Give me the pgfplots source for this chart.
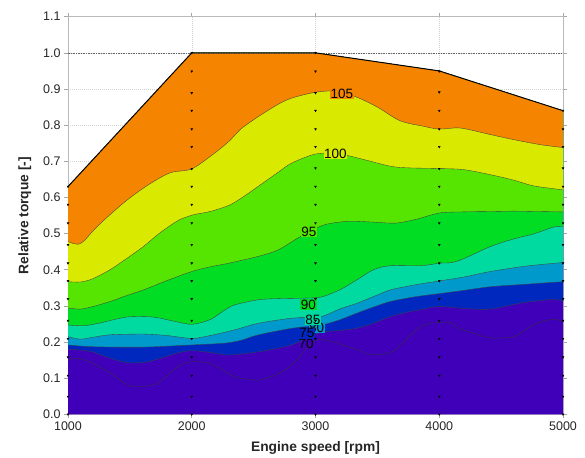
\documentclass[border=0pt]{standalone}
\usepackage{pgfplots}
\pgfplotsset{compat=1.18}
\usepgfplotslibrary{fillbetween}
\usepackage{fontspec}
\setmainfont{Liberation Sans}
\definecolor{cOr}{HTML}{F58500}
\definecolor{cYe}{HTML}{D9EA00}
\definecolor{cLg}{HTML}{55E500}
\definecolor{cGr}{HTML}{00DD22}
\definecolor{cTe}{HTML}{00D9A0}
\definecolor{cMb}{HTML}{0099CC}
\definecolor{cDb}{HTML}{0028BE}
\definecolor{cPu}{HTML}{4000B9}
\begin{document}
\begin{tikzpicture}
\begin{axis}[
  at={(0,0)}, anchor=south west,
  scale only axis, width=495pt, height=397.6pt,
  xmin=1000, xmax=5000, ymin=0, ymax=1.1,
  xtick={1000,2000,3000,4000,5000},
  ytick={0,0.1,0.2,0.3,0.4,0.5,0.6,0.7,0.8,0.9,1.0,1.1},
  /pgf/number format/assume math mode=true,
  xticklabel style={/pgf/number format/1000 sep={}},
  yticklabel style={/pgf/number format/fixed, /pgf/number format/fixed zerofill, /pgf/number format/precision=1},
  tick label style={font=\fontsize{12.5}{14}\selectfont, color=black!85},
  tick align=outside, major tick length=4pt,
  tick style={gray!70, line width=0.6pt},
  axis line style={gray!55, line width=1pt},
  grid=major, grid style={gray!35, line width=0.4pt, dash pattern=on 1pt off 1pt},
  xlabel={Engine speed [rpm]}, ylabel={Relative torque [-]},
  every axis x label/.style={at={(axis description cs:0.5,-0.0923)}, anchor=base, font=\fontsize{13.8}{16}\selectfont\bfseries, text=black!85},
  every axis y label/.style={at={(axis description cs:-0.0802,0.5)}, anchor=base, rotate=90, font=\fontsize{13.8}{16}\selectfont\bfseries, text=black!85},
]
\addplot[name path=base, draw=none] coordinates {(1000,0) (5000,0)};
\addplot[name path=env, draw=none] coordinates {(1000,0.63) (2000,1) (3000,1) (4000,0.95) (5000,0.84)};

% contour boundaries
\addplot[name path=b75, black!75, line width=0.35pt, smooth, tension=0.5] coordinates {
(1000,0.180) (1100,0.178) (1205,0.172) (1340,0.155) (1474,0.143) (1600,0.143) (1690,0.149) (1878,0.169) (2000,0.176) (2150,0.171) (2300,0.164) (2539,0.173) (2808,0.192) (2950,0.216) (3063,0.228) (3200,0.232) (3334,0.238) (3470,0.252) (3603,0.270) (3750,0.283) (3872,0.291) (4002,0.298) (4200,0.293) (4412,0.291) (4681,0.309) (4923,0.318) (5000,0.312)};
\addplot[name path=b80, black!75, line width=0.35pt, smooth, tension=0.5] coordinates {
(1000,0.192) (1205,0.187) (1609,0.186) (2000,0.192) (2269,0.197) (2400,0.205) (2539,0.220) (2808,0.238) (3000,0.245) (3063,0.248) (3200,0.262) (3334,0.280) (3470,0.297) (3603,0.312) (3800,0.325) (4002,0.334) (4200,0.343) (4412,0.353) (4700,0.360) (5000,0.367)};
\addplot[name path=b85, black!75, line width=0.35pt, smooth, tension=0.5] coordinates {
(1000,0.215) (1097,0.208) (1200,0.213) (1340,0.220) (1609,0.222) (1800,0.218) (2000,0.210) (2150,0.218) (2350,0.234) (2539,0.252) (2808,0.266) (2950,0.268) (3063,0.272) (3200,0.292) (3334,0.307) (3470,0.326) (3603,0.344) (3800,0.358) (4002,0.369) (4200,0.380) (4412,0.395) (4700,0.410) (5000,0.420)};
\addplot[name path=b90, black!75, line width=0.35pt, smooth, tension=0.5] coordinates {
(1000,0.247) (1124,0.245) (1250,0.252) (1474,0.269) (1690,0.269) (1850,0.258) (2000,0.249) (2148,0.262) (2269,0.289) (2350,0.303) (2539,0.317) (2700,0.320) (2850,0.321) (2970,0.322) (3063,0.326) (3200,0.345) (3334,0.372) (3468,0.400) (3603,0.411) (3846,0.411) (4002,0.418) (4142,0.423) (4412,0.464) (4600,0.485) (4762,0.499) (4923,0.518) (5000,0.520)};
\addplot[name path=b95, black!75, line width=0.35pt, smooth, tension=0.5] coordinates {
(1000,0.294) (1100,0.291) (1200,0.298) (1340,0.312) (1470,0.328) (1609,0.344) (1800,0.370) (2000,0.395) (2150,0.408) (2300,0.418) (2539,0.437) (2700,0.455) (2849,0.486) (2950,0.505) (3078,0.525) (3266,0.534) (3450,0.532) (3650,0.529) (3819,0.540) (4002,0.557) (4200,0.560) (4412,0.561) (4600,0.562) (4800,0.561) (5000,0.560)};
\addplot[name path=b100, black!75, line width=0.35pt, smooth, tension=0.5] coordinates {
(1000,0.367) (1100,0.366) (1200,0.375) (1340,0.400) (1470,0.430) (1609,0.464) (1717,0.495) (1800,0.516) (1900,0.538) (2013,0.552) (2148,0.561) (2300,0.578) (2400,0.598) (2539,0.631) (2700,0.670) (2808,0.695) (3000,0.720) (3185,0.721) (3400,0.704) (3650,0.684) (4000,0.680) (4196,0.677) (4412,0.663) (4600,0.648) (4762,0.632) (5000,0.621)};
\addplot[name path=b105, black!75, line width=0.35pt, smooth, tension=0.5] coordinates {
(1000,0.478) (1050,0.472) (1090,0.471) (1130,0.480) (1170,0.495) (1210,0.510) (1300,0.540) (1475,0.592) (1650,0.635) (1825,0.668) (2000,0.679) (2175,0.720) (2300,0.755) (2400,0.790) (2540,0.824) (2700,0.858) (2810,0.875) (3000,0.891) (3185,0.894) (3350,0.875) (3500,0.850) (3684,0.812) (3872,0.797) (4000,0.789) (4170,0.792) (4412,0.774) (4600,0.760) (4816,0.746) (5000,0.738)};
% line 70
\addplot[black!80, line width=0.35pt, smooth, tension=0.5] coordinates {
(1000,0.150) (1070,0.155) (1140,0.150) (1205,0.141) (1340,0.114) (1440,0.090) (1528,0.077) (1690,0.081) (1760,0.095) (1824,0.114) (1900,0.135) (1960,0.143) (2067,0.146) (2175,0.137) (2269,0.118) (2350,0.104) (2450,0.097) (2539,0.095) (2650,0.105) (2754,0.123) (2850,0.150) (2916,0.178) (2997,0.204) (3105,0.204) (3230,0.190) (3347,0.178) (3441,0.165) (3576,0.168) (3650,0.180) (3711,0.200) (3859,0.245) (4002,0.254) (4101,0.254) (4142,0.240) (4300,0.222) (4412,0.211) (4600,0.215) (4700,0.235) (4789,0.252) (4923,0.263) (5000,0.257)};

% filled bands
\addplot[fill=cPu, draw=none] fill between[of=base and env];
\addplot[fill=cDb, draw=none] fill between[of=b75 and env];
\addplot[fill=cMb, draw=none] fill between[of=b80 and env];
\addplot[fill=cTe, draw=none] fill between[of=b85 and env];
\addplot[fill=cGr, draw=none] fill between[of=b90 and env];
\addplot[fill=cLg, draw=none] fill between[of=b95 and env];
\addplot[fill=cYe, draw=none] fill between[of=b100 and env];
\addplot[fill=cOr, draw=none] fill between[of=b105 and env];

% reference line at 1.0 and envelope
\addplot[black!60, line width=0.6pt, dash pattern=on 1.5pt off 1pt] coordinates {(1000,1) (5000,1)};
\addplot[black, line width=1pt] coordinates {(1000,0.63) (2000,1) (3000,1) (4000,0.95) (5000,0.84)};

% measurement points
\addplot[only marks, mark=triangle*, mark size=1.1pt, mark options={rotate=180, black}] coordinates {
(1000,0) (1000,0.049) (1000,0.107) (1000,0.158) (1000,0.209) (1000,0.259) (1000,0.319) (1000,0.369) (1000,0.418) (1000,0.469) (1000,0.529) (1000,0.580) (1000,0.630)
(2000,0) (2000,0.049) (2000,0.107) (2000,0.158) (2000,0.209) (2000,0.259) (2000,0.319) (2000,0.369) (2000,0.418) (2000,0.469) (2000,0.529) (2000,0.580) (2000,0.630) (2000,0.679) (2000,0.740) (2000,0.789) (2000,0.840) (2000,0.889) (2000,0.949) (2000,1.0)
(3000,0) (3000,0.049) (3000,0.107) (3000,0.158) (3000,0.209) (3000,0.259) (3000,0.319) (3000,0.369) (3000,0.418) (3000,0.469) (3000,0.529) (3000,0.580) (3000,0.630) (3000,0.681) (3000,0.740) (3000,0.789) (3000,0.840) (3000,0.889) (3000,0.949) (3000,1.0)
(4000,0) (4000,0.049) (4000,0.107) (4000,0.158) (4000,0.209) (4000,0.259) (4000,0.319) (4000,0.369) (4000,0.418) (4000,0.469) (4000,0.529) (4000,0.580) (4000,0.630) (4000,0.679) (4000,0.740) (4000,0.789) (4000,0.840) (4000,0.891) (4000,0.949)
(5000,0) (5000,0.049) (5000,0.107) (5000,0.158) (5000,0.209) (5000,0.259) (5000,0.319) (5000,0.369) (5000,0.418) (5000,0.469) (5000,0.529) (5000,0.580) (5000,0.630) (5000,0.681) (5000,0.740) (5000,0.789) (5000,0.840)};

% contour labels
\node[font=\fontsize{13.5}{15}\selectfont, inner sep=0.6pt] at (axis cs:2924,0.195) {70};
\node[font=\fontsize{13.5}{15}\selectfont, inner sep=0.6pt, fill=cMb] at (axis cs:3010,0.240) {80};
\node[font=\fontsize{13.5}{15}\selectfont, inner sep=0.6pt, fill=cDb] at (axis cs:2930,0.224) {75};
\node[font=\fontsize{13.5}{15}\selectfont, inner sep=0.6pt, fill=cTe] at (axis cs:2978,0.261) {85};
\node[font=\fontsize{13.5}{15}\selectfont, inner sep=0.6pt, fill=cGr] at (axis cs:2943,0.304) {90};
\node[font=\fontsize{13.5}{15}\selectfont, inner sep=0.6pt, fill=cLg] at (axis cs:2946,0.506) {95};
\node[font=\fontsize{13.5}{15}\selectfont, inner sep=0.6pt, fill=cYe] at (axis cs:3161,0.721) {100};
\node[font=\fontsize{13.5}{15}\selectfont, inner sep=0.6pt, fill=cOr] at (axis cs:3213,0.887) {105};
\end{axis}
\path (-68pt,-40.7pt) rectangle (517pt,414.3pt);
\end{tikzpicture}
\end{document}
